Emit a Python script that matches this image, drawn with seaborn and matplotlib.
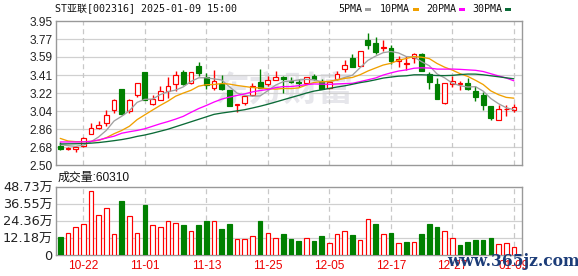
import numpy as np
import pandas as pd
import matplotlib
matplotlib.use("Agg")
import matplotlib.pyplot as plt
from matplotlib.patches import Rectangle
import seaborn as sns

# ---------------- data ----------------
dates = ["10-17", "10-18", "10-21", "10-22", "10-23", "10-24", "10-25", "10-28", "10-29", "10-30",
         "10-31", "11-01", "11-04", "11-05", "11-06", "11-07", "11-08", "11-11", "11-12", "11-13",
         "11-14", "11-15", "11-18", "11-19", "11-20", "11-21", "11-22", "11-25", "11-26", "11-27",
         "11-28", "11-29", "12-02", "12-03", "12-04", "12-05", "12-06", "12-09", "12-10", "12-11",
         "12-12", "12-13", "12-16", "12-17", "12-18", "12-19", "12-20", "12-23", "12-24", "12-25",
         "12-26", "12-27", "12-30", "12-31", "01-02", "01-03", "01-06", "01-07", "01-08", "01-09"]

open_ = [2.695, 2.665, 2.665, 2.69, 2.815, 2.872, 2.92, 3.05, 3.27, 3.04,
         3.205, 3.44, 3.115, 3.155, 3.25, 3.315, 3.435, 3.33, 3.50, 3.385,
         3.275, 3.315, 3.26, 3.105, 3.12, 3.20, 3.335, 3.315, 3.355, 3.385,
         3.35, 3.34, 3.325, 3.40, 3.35, 3.28, 3.365, 3.465, 3.58, 3.495,
         3.76, 3.725, 3.675, 3.68, 3.55, 3.52, 3.575, 3.615, 3.42, 3.32,
         3.125, 3.32, 3.315, 3.325, 3.245, 3.20, 3.09, 2.955, 3.06, 3.05]
high = [2.73, 2.68, 2.69, 2.78, 2.92, 2.945, 3.05, 3.16, 3.27, 3.16,
        3.33, 3.44, 3.20, 3.30, 3.39, 3.445, 3.46, 3.44, 3.54, 3.43,
        3.46, 3.41, 3.26, 3.115, 3.20, 3.33, 3.47, 3.40, 3.445, 3.40,
        3.39, 3.365, 3.39, 3.42, 3.37, 3.35, 3.445, 3.56, 3.615, 3.65,
        3.825, 3.785, 3.755, 3.71, 3.60, 3.595, 3.625, 3.625, 3.44, 3.38,
        3.33, 3.40, 3.35, 3.375, 3.30, 3.235, 3.09, 3.10, 3.10, 3.11]
low = [2.655, 2.65, 2.635, 2.685, 2.81, 2.862, 2.89, 3.02, 3.00, 3.02,
       3.18, 3.155, 3.105, 3.15, 3.175, 3.25, 3.31, 3.315, 3.40, 3.27,
       3.255, 3.26, 3.09, 3.035, 3.10, 3.19, 3.28, 3.30, 3.355, 3.22,
       3.33, 3.285, 3.32, 3.36, 3.27, 3.27, 3.36, 3.435, 3.485, 3.495,
       3.665, 3.62, 3.645, 3.52, 3.485, 3.455, 3.525, 3.445, 3.27, 3.16,
       3.11, 3.29, 3.26, 3.255, 3.14, 3.05, 2.95, 2.955, 2.99, 3.035]
close = [2.66, 2.675, 2.685, 2.775, 2.875, 2.905, 3.005, 3.155, 3.015, 3.155,
         3.325, 3.158, 3.162, 3.245, 3.30, 3.405, 3.32, 3.435, 3.43, 3.305,
         3.345, 3.265, 3.095, 3.11, 3.195, 3.30, 3.28, 3.355, 3.39, 3.37,
         3.335, 3.33, 3.385, 3.37, 3.27, 3.34, 3.42, 3.51, 3.485, 3.645,
         3.705, 3.635, 3.685, 3.545, 3.57, 3.525, 3.615, 3.445, 3.34, 3.16,
         3.325, 3.345, 3.325, 3.27, 3.18, 3.10, 2.97, 3.065, 3.068, 3.08]
# volume in 万
volume = [13.0, 15.85, 19.87, 22.23, 45.4, 28.6, 33.35, 14.9, 38.55, 27.9,
          15.85, 35.7, 21.3, 19.87, 24.1, 22.7, 21.5, 17.0, 21.5, 24.36,
          24.1, 18.7, 22.2, 11.35, 11.35, 13.5, 24.36, 15.85, 12.06, 15.14,
          11.6, 10.17, 12.06, 10.17, 13.72, 8.5, 14.9, 17.0, 14.43, 10.64,
          25.5, 22.2, 15.14, 15.85, 8.5, 9.46, 9.46, 15.14, 22.23, 20.1,
          17.03, 12.06, 7.33, 9.46, 10.88, 10.88, 12.3, 7.8, 8.5, 6.031]

# moving-average values at the start of the window (history before the chart)
ma5_head = [2.705, 2.695, 2.688, 2.70]
ma10_head = [2.768, 2.742, 2.735, 2.735, 2.738, 2.748, 2.775, 2.815, 2.848]
ma20_head = [2.732, 2.732, 2.732, 2.733, 2.738, 2.752, 2.772, 2.79, 2.82, 2.835,
             2.848, 2.865, 2.89, 2.915, 2.937, 2.962, 2.99, 3.03, 3.068]
ma30_head = [2.712, 2.713, 2.714, 2.716, 2.72, 2.726, 2.735, 2.745, 2.756, 2.77,
             2.788, 2.802, 2.82, 2.84, 2.86, 2.885, 2.91, 2.935, 2.96, 2.985,
             3.01, 3.023, 3.034, 3.045, 3.057, 3.074, 3.092, 3.112, 3.134]

tick_dates = ["10-22", "11-01", "11-13", "11-25", "12-05", "12-17", "12-27", "01-09"]
price_tick_labels = ["2.50", "2.68", "2.86", "3.04", "3.22", "3.41", "3.59", "3.77", "3.95"]
price_min, price_max = 2.50, 3.95
vol_tick_values = [0, 12.18, 24.36, 36.55, 48.73]
vol_tick_labels = ["0", "12.18万", "24.36万", "36.55万", "48.73万"]
title = "ST亚联[002316] 2025-01-09 15:00"
vol_title = "成交量:60310"
ma_names = ["5PMA", "10PMA", "20PMA", "30PMA"]
watermark_site = "www.365jz.com"
watermark_brand = "东方财富"

# ---------------- derived ----------------
n = len(dates)
x = np.arange(n)
o = np.array(open_); h = np.array(high); l = np.array(low); c = np.array(close)
cs = pd.Series(c)
def ma(win, head):
    s = cs.rolling(win).mean().to_numpy()
    s[:len(head)] = head
    return s
mas = [ma(5, ma5_head), ma(10, ma10_head), ma(20, ma20_head), ma(30, ma30_head)]
df = pd.DataFrame({"x": x, "ma5": mas[0], "ma10": mas[1], "ma20": mas[2], "ma30": mas[3]})

RED = "#ff0000"
GREEN = "#008000"
ma_colors = ["#a0a0a0", "#f0a000", "#ff00ff", "#0b6b37"]

sns.set_style("white")
plt.rcParams["font.family"] = ["Liberation Sans", "Noto Sans CJK SC", "DejaVu Sans"]
plt.rcParams["axes.unicode_minus"] = False

W, H = 578, 276
fig = plt.figure(figsize=(W / 100, H / 100), dpi=100)
def fx(px): return px / W
def fy(py): return 1 - py / H

ax = fig.add_axes([fx(56), fy(165), (522 - 56) / W, (165 - 21) / H])
axv = fig.add_axes([fx(56), fy(255.3), (522 - 56) / W, (255.3 - 186.7) / H])

xlim = (-0.55, n + 0.05)
tick_pos = [dates.index(d) for d in tick_dates]

# ---- price panel ----
up = c >= o
cols = np.where(up, RED, GREEN)
ax.vlines(x, l, h, colors=cols, lw=1.0, zorder=3)
body_bottom = np.minimum(o, c)
body_h = np.maximum(np.abs(c - o), 0.004)
ax.bar(x, body_h, bottom=body_bottom, width=0.62,
       facecolor=np.where(up, "white", GREEN).tolist(),
       edgecolor=cols.tolist(), linewidth=0.85, zorder=4)

for key, col in zip(["ma5", "ma10", "ma20", "ma30"], ma_colors):
    sns.lineplot(data=df, x="x", y=key, ax=ax, color=col, lw=0.95, legend=False, zorder=5)

ax.set_xlim(*xlim)
ax.set_ylim(price_min, price_max)
yt = np.linspace(price_min, price_max, len(price_tick_labels))
ax.set_yticks(yt)
ax.set_yticklabels(price_tick_labels, fontsize=8.6, color="#222222")
ax.set_xticks(tick_pos)
ax.set_xticklabels([])
ax.tick_params(length=0, pad=2.6)
ax.set_xlabel(""); ax.set_ylabel("")
for v in yt[1:-1]:
    ax.axhline(v, color="#d0d0d0", lw=0.9, zorder=1)
for p in tick_pos:
    ax.axvline(p, color="#c8c8c8", lw=0.9, ls=(0, (4, 3)), zorder=1)
ax.text(0.49, 0.52, watermark_brand, transform=ax.transAxes, fontsize=25, fontweight="bold",
        color="#e6e6eb", ha="center", va="center", zorder=0.5,
        family=["Noto Sans CJK SC"])

# ---- volume panel ----
prev = np.r_[o[0], c[:-1]]
vup = c >= prev
vcols = np.where(vup, RED, GREEN)
axv.bar(x, volume, width=0.6, facecolor=np.where(vup, "white", GREEN).tolist(),
        edgecolor=vcols.tolist(), linewidth=0.85, zorder=3)
axv.set_xlim(*xlim)
axv.set_ylim(0, vol_tick_values[-1])
axv.set_yticks(vol_tick_values)
axv.set_yticklabels(vol_tick_labels, fontsize=9.3, color="#222222",
                    family=["DejaVu Sans", "Noto Sans CJK SC"])
axv.set_xticks(tick_pos)
axv.set_xticklabels(tick_dates, fontsize=8.6, color="#ee0000")
axv.tick_params(length=0, pad=2.6)
axv.tick_params(axis="x", pad=3.5)
for v in vol_tick_values[1:-1]:
    axv.axhline(v, color="#d0d0d0", lw=0.9, zorder=1)
for p in tick_pos:
    axv.axvline(p, color="#c8c8c8", lw=0.9, ls=(0, (4, 3)), zorder=1)

for a in (ax, axv):
    for s in a.spines.values():
        s.set_color("#999999")
        s.set_linewidth(1.0)
        s.set_visible(True)

# ---- texts ----
mono = ["DejaVu Sans Mono", "Noto Sans CJK SC"]
fig.text(fx(55), fy(9), title, fontsize=7.2, family=mono, color="#111111", va="center", ha="left")
leg_x = [338, 380, 426, 472]
rect_x = [365, 413, 459, 505]
for name, lx, rx, col in zip(ma_names, leg_x, rect_x, ma_colors):
    fig.text(fx(lx), fy(9), name, fontsize=7.2, family=mono, color="#111111", va="center", ha="left")
    fig.patches.append(Rectangle((fx(rx), fy(10.5)), 6 / W, 2.6 / H, transform=fig.transFigure,
                                 facecolor=col, edgecolor="none"))
fig.text(fx(58), fy(177.5), vol_title, fontsize=8.6, color="#111111", va="center", ha="left",
         family=["Liberation Sans", "Noto Sans CJK SC"])
fig.text(fx(513), fy(261.5), watermark_site, fontsize=11.2, fontweight="bold",
         family=["DejaVu Serif"], color="#1c3c78", va="center", ha="center", zorder=10)

fig.savefig("out.png", dpi=100)
